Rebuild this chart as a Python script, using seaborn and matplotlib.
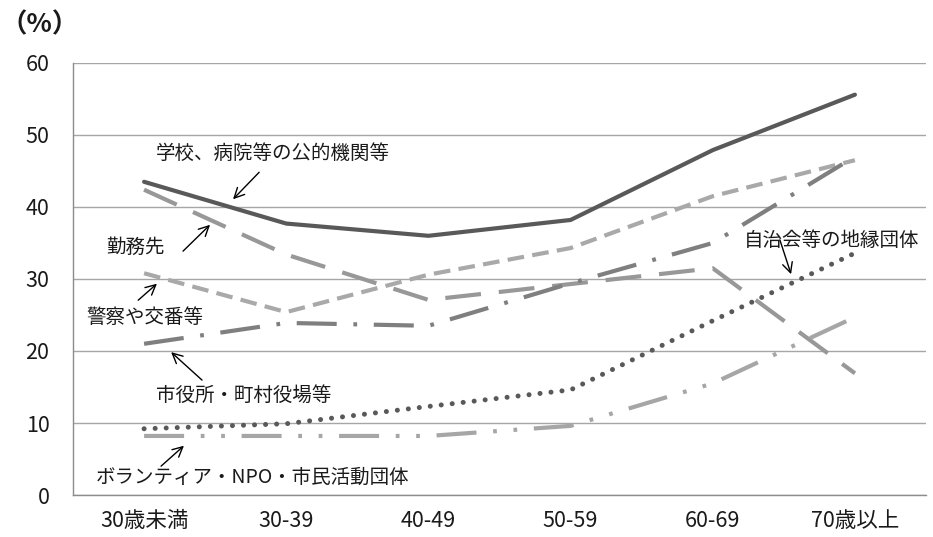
import numpy as np
import pandas as pd
import matplotlib
matplotlib.use("Agg")
import matplotlib.pyplot as plt
import seaborn as sns

# Age groups and share (%) of respondents per organisation type
age_groups = ["30歳未満", "30-39", "40-49", "50-59", "60-69", "70歳以上"]
school_hospital = [43.5, 37.7, 36.0, 38.2, 47.9, 55.6]
workplace = [42.4, 33.4, 27.1, 29.3, 31.5, 16.9]
police = [30.8, 25.4, 30.6, 34.3, 41.5, 46.5]
city_office = [21.0, 23.9, 23.5, 29.4, 35.0, 47.0]
neighborhood = [9.2, 9.9, 12.3, 14.6, 24.2, 33.6]
volunteer = [8.2, 8.2, 8.2, 9.6, 15.5, 24.7]

series_names = [
    "学校、病院等の公的機関等",
    "勤務先",
    "警察や交番等",
    "市役所・町村役場等",
    "自治会等の地縁団体",
    "ボランティア・NPO・市民活動団体",
]
series_values = [school_hospital, workplace, police, city_office, neighborhood, volunteer]

rows = []
for name, vals in zip(series_names, series_values):
    for i, v in enumerate(vals):
        rows.append({"group": name, "pos": i, "value": v})
df = pd.DataFrame(rows)

sns.set_theme(style="white")
plt.rcParams["font.family"] = ["Noto Sans CJK JP", "DejaVu Sans"]

fig = plt.figure(figsize=(9.33, 5.37), dpi=100)
ax = fig.add_axes([73 / 933, 1 - 495 / 537, 853 / 933, 432 / 537])

styles = {
    "学校、病院等の公的機関等": dict(color="#595959", dashes=None, cap="round", lw=3.0),
    "勤務先": dict(color="#989898", dashes=(8.6, 4.3), cap="butt", lw=3.0),
    "警察や交番等": dict(color="#a9a9a9", dashes=(4.0, 2.0), cap="butt", lw=3.0),
    "市役所・町村役場等": dict(color="#7f7f7f", dashes=(9.6, 4.0, 0.9, 4.0), cap="butt", lw=3.0),
    "自治会等の地縁団体": dict(color="#595959", dashes=(0.01, 2.2), cap="round", lw=3.6),
    "ボランティア・NPO・市民活動団体": dict(color="#a6a6a6", dashes=(9.6, 4.0, 0.9, 4.0, 0.9, 4.0), cap="butt", lw=3.0),
}

for name in series_names:
    st = styles[name]
    sub = df[df["group"] == name]
    sns.lineplot(data=sub, x="pos", y="value", ax=ax, color=st["color"],
                 linewidth=st["lw"], legend=False, zorder=3)
    line = ax.lines[-1]
    if st["dashes"] is not None:
        line.set_dashes(st["dashes"])
    line.set_dash_capstyle(st["cap"])
    line.set_solid_capstyle("round")

ax.set_xlim(-0.5, 5.5)
ax.set_ylim(0, 60)
ax.set_yticks(np.arange(0, 61, 10))
ax.set_xticks(np.arange(len(age_groups)))
ax.set_xticklabels(age_groups)
ax.set_xticks(np.arange(-0.5, len(age_groups), 1.0), minor=True)
ax.set_xlabel("")
ax.set_ylabel("")

ax.grid(axis="y", color="#a6a6a6", linewidth=1.0, zorder=0)
ax.grid(axis="x", visible=False)
for side in ["top", "right"]:
    ax.spines[side].set_visible(False)
for side in ["left", "bottom"]:
    ax.spines[side].set_color("#8c8c8c")
    ax.spines[side].set_linewidth(1.0)

ax.tick_params(axis="x", which="major", length=0, pad=11, labelsize=15.5, labelcolor="#1a1a1a")
ax.tick_params(axis="x", which="minor", length=5, width=1, color="#8c8c8c", direction="out")
ax.tick_params(axis="y", which="major", length=5, width=1, color="#8c8c8c", direction="out",
               pad=12, labelsize=15.5, labelcolor="#1a1a1a")

fig.text(0, 1 - 25 / 537, "（%）", fontsize=19, fontweight="bold",
         va="center", ha="left", color="#1a1a1a")

arrow_kw = dict(arrowstyle="->", color="black", lw=1.0, mutation_scale=18)
notes = [
    ("学校、病院等の公的機関等", (0.084, 47.5), (0.823, 45.1), (0.612, 40.8)),
    ("勤務先", (-0.267, 34.4), (0.26, 33.6), (0.478, 37.8)),
    ("警察や交番等", (-0.408, 24.6), (-0.056, 26.8), (0.105, 29.6)),
    ("市役所・町村役場等", (0.084, 13.9), (0.422, 15.7), (0.176, 20.1)),
    ("ボランティア・NPO・市民活動団体", (-0.338, 2.5), (0.105, 3.75), (0.295, 7.1)),
    ("自治会等の地縁団体", (4.22, 35.4), (4.466, 35.8), (4.557, 30.3)),
]
for text, tpos, start, end in notes:
    ax.text(tpos[0], tpos[1], text, fontsize=14, ha="left", va="center",
            color="#1a1a1a", zorder=5)
    ax.annotate("", xy=end, xytext=start, arrowprops=arrow_kw, zorder=5)

fig.savefig("out.png", dpi=100)
